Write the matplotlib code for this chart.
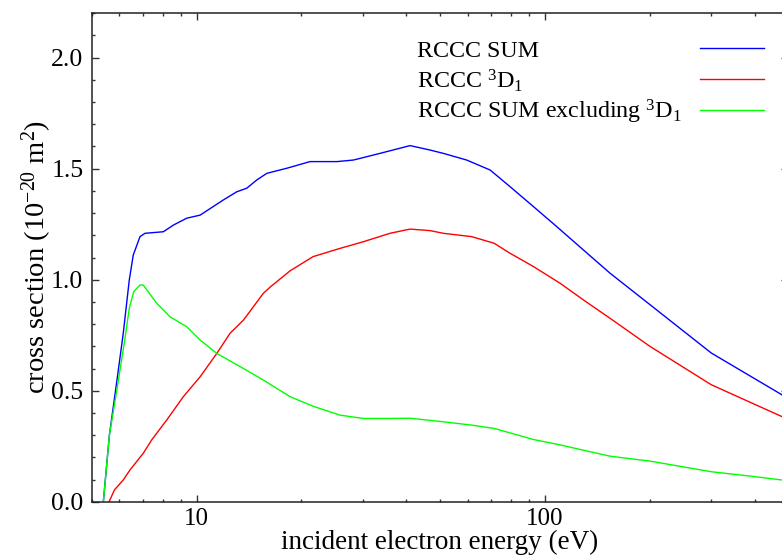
import numpy
import matplotlib
import matplotlib.pyplot as plt
from matplotlib.ticker import FixedLocator, LogLocator, MultipleLocator, FormatStrFormatter, NullFormatter

matplotlib.use("Agg")

# Energies (eV) and cross sections (1e-20 m^2)
sum_energy = [5.40, 5.62, 5.9, 6.16, 6.41, 6.58, 6.88, 7.11, 8.03, 8.58, 9.37, 10.24, 11.93, 13.04,
              13.93, 14.88, 15.9, 18.15, 21.17, 25.3, 28.2, 33.6, 41.0, 46.8, 51.1, 59.6, 69.6, 79.4,
              92.7, 108.1, 128.9, 153.8, 200, 300, 500]
sum_xs = [0.0, 0.30, 0.54, 0.759, 0.999, 1.111, 1.194, 1.209, 1.216, 1.246, 1.277, 1.291, 1.359, 1.396,
          1.412, 1.449, 1.479, 1.502, 1.532, 1.532, 1.539, 1.569, 1.604, 1.584, 1.569, 1.539, 1.494, 1.419,
          1.329, 1.239, 1.134, 1.029, 0.888, 0.67, 0.464]

d1_energy = [5.61, 5.81, 6.16, 6.44, 7.03, 7.43, 8.21, 9.16, 10.24, 11.43, 12.48, 13.63, 15.55, 16.3,
             18.55, 21.6, 25.8, 30.1, 35.9, 41.0, 46.8, 51.1, 61.6, 71.5, 79.4, 92.7, 110.5, 128.9,
             153.8, 200, 300, 500]
d1_xs = [0.0, 0.053, 0.098, 0.143, 0.218, 0.278, 0.368, 0.473, 0.563, 0.668, 0.759, 0.818, 0.939, 0.968,
         1.040, 1.104, 1.141, 1.171, 1.209, 1.228, 1.221, 1.209, 1.194, 1.164, 1.119, 1.059, 0.984, 0.909,
         0.826, 0.70, 0.527, 0.37]

excl_energy = [5.40, 5.62, 5.9, 6.23, 6.41, 6.6, 6.88, 7.03, 7.68, 8.39, 9.37, 10.24, 11.43, 13.35,
               15.55, 18.55, 21.6, 25.8, 30.1, 35.9, 41.0, 51.1, 61.6, 71.5, 79.4, 92.7, 110.5, 128.9,
               153.8, 200, 300, 400, 500]
excl_xs = [0.0, 0.30, 0.50, 0.736, 0.871, 0.946, 0.976, 0.976, 0.894, 0.833, 0.788, 0.728, 0.668, 0.608,
           0.548, 0.473, 0.43, 0.39, 0.375, 0.375, 0.376, 0.36, 0.345, 0.33, 0.31, 0.28, 0.256, 0.232,
           0.205, 0.183, 0.135, 0.113, 0.094]

labels = ["RCCC SUM", "RCCC $^{3}$D$_{1}$", "RCCC SUM excluding $^{3}$D$_{1}$"]
colors = ["#0000ff", "#ff0000", "#00ff00"]

plt.rcParams["font.family"] = "Liberation Serif"
plt.rcParams["mathtext.fontset"] = "custom"
plt.rcParams["mathtext.rm"] = "Liberation Serif"
plt.rcParams["mathtext.it"] = "Liberation Serif:italic"

fig = plt.figure(figsize=(7.82, 5.55), dpi=100)
# axes runs a little past the right edge of the picture, as in the original
ax = fig.add_axes([91.7 / 782, (555 - 501.7) / 555, 696.8 / 782, 488.4 / 555])

series = [(sum_energy, sum_xs), (d1_energy, d1_xs), (excl_energy, excl_xs)]
for (energy, xs), color in zip(series, colors):
    ax.plot(energy, xs, color=color, lw=1.0)

ax.set_xscale("log")
ax.set_xlim(5, 500)
ax.set_ylim(0, 2.2)

ax.xaxis.set_major_locator(FixedLocator([10, 100]))
ax.xaxis.set_major_formatter(FormatStrFormatter("%d"))
ax.xaxis.set_minor_locator(LogLocator(base=10, subs=numpy.arange(2, 10)))
ax.xaxis.set_minor_formatter(NullFormatter())
ax.yaxis.set_major_locator(MultipleLocator(0.5))
ax.yaxis.set_major_formatter(FormatStrFormatter("%.1f"))
ax.yaxis.set_minor_locator(MultipleLocator(0.1))

ax.tick_params(which="both", direction="in", top=True, right=True, width=1.0, color="#333333")
ax.tick_params(which="major", length=5, pad=6, labelsize=18.5)
ax.tick_params(axis="x", which="major", pad=4.5, labelsize=18)
ax.tick_params(which="minor", length=2.5)
for spine in ax.spines.values():
    spine.set_linewidth(1.1)
    spine.set_color("#222222")

ax.set_xlabel("incident electron energy (eV)", fontsize=19.5, labelpad=0)
ax.set_ylabel("cross section (10$^{-20}$ m$^{2}$)", fontsize=20.5, labelpad=-2)

# gnuplot-like key: text left aligned, sample line on the right
row_y = [0.9296, 0.8649, 0.802]
for label, color, y in zip(labels, colors, row_y):
    ax.text(0.467, y - 0.0184, label, transform=ax.transAxes, ha="left", va="baseline", fontsize=17.3)
    ax.plot([0.873, 0.965], [y, y], transform=ax.transAxes, color=color, lw=1.0, clip_on=False)

plt.savefig("out.png", dpi=100)
